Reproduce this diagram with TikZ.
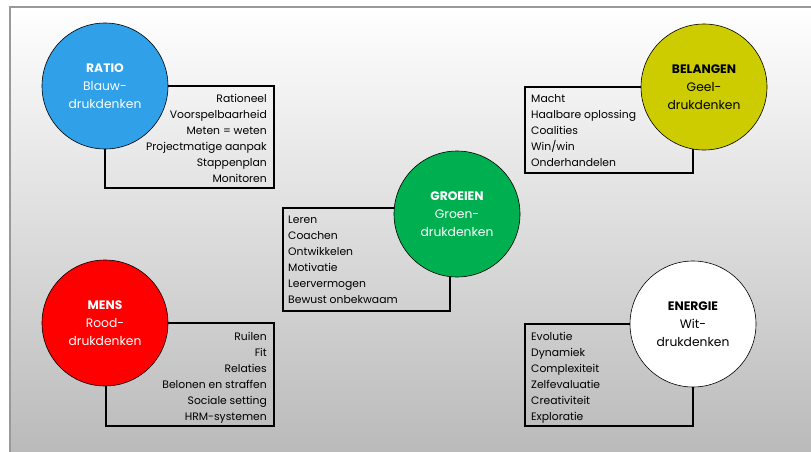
\documentclass[tikz,border=0pt]{standalone}
\usepackage{fontspec}
\setmainfont{Poppins}
\usepackage{tikz}

\definecolor{ratioblue}{RGB}{48,160,232}
\definecolor{belangyellow}{RGB}{204,204,0}
\definecolor{groeigreen}{RGB}{0,176,80}
\definecolor{mensred}{RGB}{255,0,0}

\begin{document}
\begin{tikzpicture}
        [x=1pt, y=-1pt,
        cstyle/.style={circle, draw=black, semithick, inner sep=0pt, minimum size=126pt, align=center, font=\fontsize{12.3}{18}\selectfont},
        bstyle/.style={draw=black, line width=1.6pt, anchor=north west, inner sep=0pt, outer sep=0pt},
        lstyle/.style={inner sep=0pt, font=\fontsize{10.8}{16}\selectfont}]

        \useasboundingbox (0,0) rectangle (811,452);
        \shade[top color=white, middle color=gray!12, bottom color=gray!54] (10,7) rectangle (811,452);
        \draw[gray!80, line width=1.5pt] (811,7) -- (10,7) -- (10,452);

        \node[bstyle, minimum width=169pt, minimum height=102pt] (ratiobox)   at (105,86)  {};
        \node[bstyle, minimum width=168pt, minimum height=86pt]  (belangbox)  at (525,87)  {};
        \node[bstyle, minimum width=167pt, minimum height=103pt] (groeibox)   at (283,208) {};
        \node[bstyle, minimum width=168pt, minimum height=103pt] (mensbox)    at (106,323) {};
        \node[bstyle, minimum width=168pt, minimum height=102pt] (energiebox) at (525,324) {};

        \node[lstyle, align=right, anchor=north east] (ratiolist) at ([xshift=-7pt, yshift=-8pt]ratiobox.north east)
            {Rationeel\\Voorspelbaarheid\\Meten = weten\\Projectmatige aanpak\\Stappenplan\\Monitoren};
        \node[lstyle, align=left, anchor=north west] (belanglist) at ([xshift=6pt, yshift=-7pt]belangbox.north west)
            {Macht\\Haalbare oplossing\\Coalities\\Win/win\\Onderhandelen};
        \node[lstyle, align=left, anchor=north west] (groeilist) at ([xshift=5pt, yshift=-8pt]groeibox.north west)
            {Leren\\Coachen\\Ontwikkelen\\Motivatie\\Leervermogen\\Bewust onbekwaam};
        \node[lstyle, align=right, anchor=north east] (menslist) at ([xshift=-7pt, yshift=-9pt]mensbox.north east)
            {Ruilen\\Fit\\Relaties\\Belonen en straffen\\Sociale setting\\HRM-systemen};
        \node[lstyle, align=left, anchor=north west] (energielist) at ([xshift=6pt, yshift=-8pt]energiebox.north west)
            {Evolutie\\Dynamiek\\Complexiteit\\Zelfevaluatie\\Creativiteit\\Exploratie};

        \node[cstyle, fill=ratioblue, text=white] (ratio)   at (105,86)  {\textbf{RATIO}\\Blauw-\\drukdenken};
        \node[cstyle, fill=belangyellow]          (belang)  at (704,87)  {\textbf{BELANGEN}\\Geel-\\drukdenken};
        \node[cstyle, fill=groeigreen, text=white] (groei)  at (457,214) {\textbf{GROEIEN}\\Groen-\\drukdenken};
        \node[cstyle, fill=mensred, text=white]   (mens)    at (105,323) {\textbf{MENS}\\Rood-\\drukdenken};
        \node[cstyle, fill=white]                 (energie) at (693,324) {\textbf{ENERGIE}\\Wit-\\drukdenken};
    \end{tikzpicture}
\end{document}
